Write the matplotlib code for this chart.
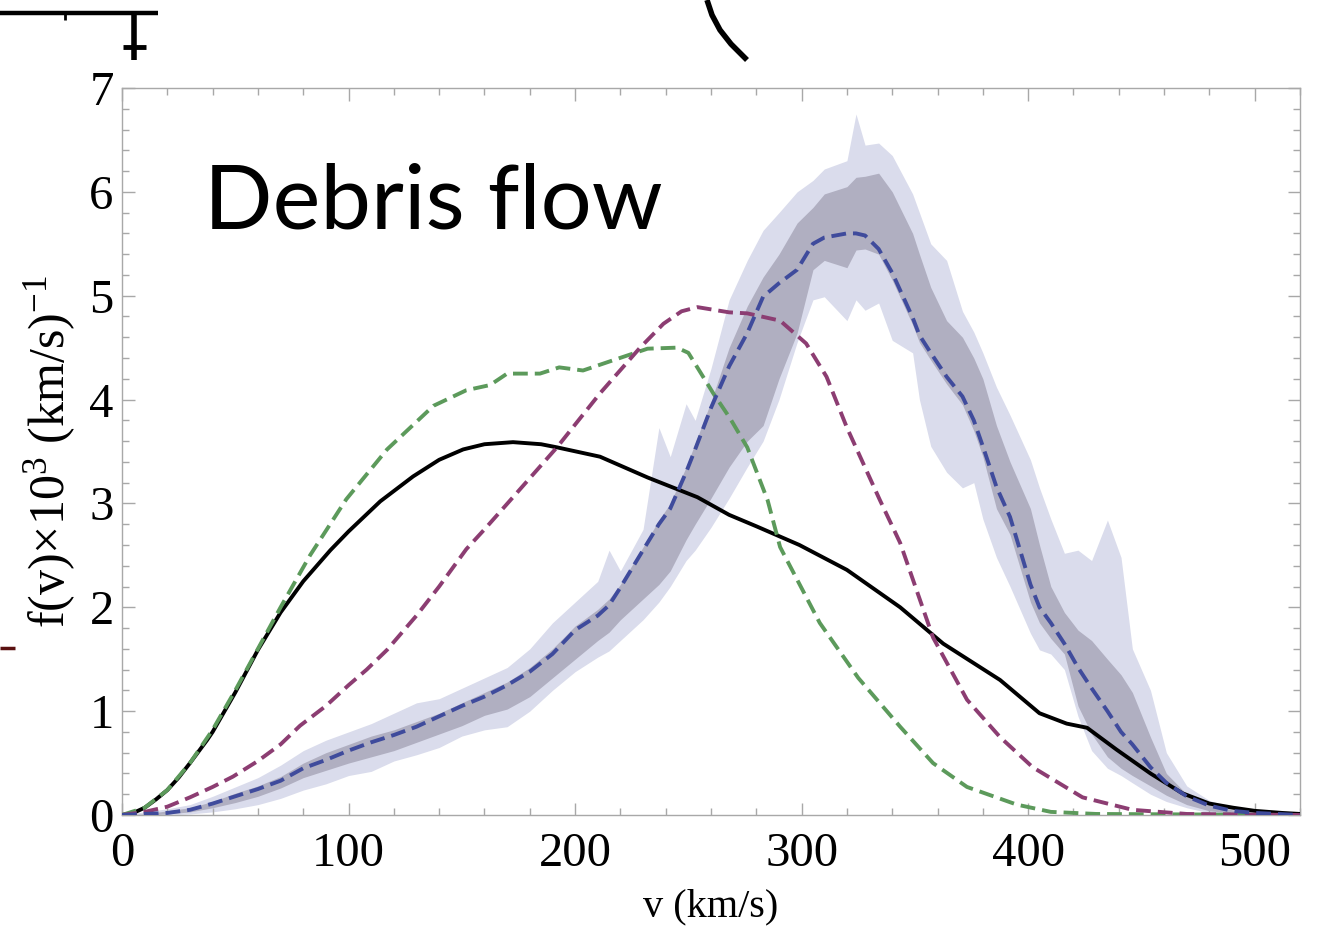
import matplotlib
matplotlib.use("Agg")
import matplotlib.pyplot as plt
from matplotlib.lines import Line2D
from matplotlib.ticker import MultipleLocator

plt.rcParams["mathtext.fontset"] = "custom"
plt.rcParams["mathtext.rm"] = "Liberation Serif"
plt.rcParams["mathtext.it"] = "Liberation Serif:italic"

# ---------------- data ----------------
# black solid curve
black_v = [0, 5, 10, 15, 20, 25, 30, 37.5, 40, 50, 60, 70, 80, 92, 100, 114, 128.5, 140, 150.6, 160,
           172.6, 185, 192, 211, 232, 254, 268, 280, 299, 320, 343.5, 362.5, 387.6, 405, 417, 426,
           439, 454, 468, 480, 490.5, 500, 512, 520]
black_f = [0, 0.02, 0.07, 0.15, 0.24, 0.36, 0.50, 0.72, 0.80, 1.18, 1.59, 1.95, 2.25, 2.55, 2.73, 3.02, 3.26,
           3.42, 3.52, 3.57, 3.59, 3.57, 3.54, 3.45, 3.25, 3.06, 2.89, 2.78, 2.60, 2.36, 2.0, 1.65, 1.30,
           0.98, 0.88, 0.84, 0.63, 0.40, 0.21, 0.11, 0.07, 0.04, 0.02, 0.01]

# green dashed curve
green_v = [0, 10, 20, 30, 40, 50, 60, 70, 83, 99, 117, 137.5, 152, 162.5, 170, 184.5, 193, 203.5, 217,
           232, 245, 250, 256.5, 261, 268.4, 276, 285, 290.5, 308, 325, 343.5, 358, 373, 395, 410, 430, 520]
green_f = [0, 0.07, 0.24, 0.50, 0.82, 1.20, 1.60, 2.00, 2.50, 3.04, 3.52, 3.94, 4.09, 4.14, 4.25, 4.25,
           4.31, 4.28, 4.38, 4.49, 4.50, 4.45, 4.22, 4.06, 3.82, 3.54, 3.03, 2.58, 1.85, 1.32, 0.85,
           0.50, 0.27, 0.10, 0.03, 0.01, 0]

# purple dashed curve
purple_v = [0, 10, 20, 30, 40, 49, 60, 70, 78.6, 90, 100, 108, 117, 130, 140, 152, 160, 172.6, 192, 211,
            228.7, 239, 247, 254, 268, 276, 290.5, 302, 311, 320, 334.6, 343.5, 358, 373, 387.6, 402,
            424, 446, 470, 520]
purple_f = [0, 0.03, 0.08, 0.17, 0.27, 0.37, 0.52, 0.68, 0.86, 1.05, 1.25, 1.40, 1.59, 1.92, 2.20, 2.56,
            2.75, 3.06, 3.54, 4.06, 4.50, 4.73, 4.85, 4.89, 4.84, 4.83, 4.76, 4.54, 4.22, 3.73, 3.03,
            2.62, 1.71, 1.11, 0.75, 0.46, 0.17, 0.05, 0.01, 0]

# blue median with inner / outer bands
band_v = [0, 10, 20, 30, 40, 50, 60, 70, 80, 90, 100, 110, 120, 130, 140, 150, 160, 170, 180, 190,
          200, 210, 215, 220, 230, 237, 242, 249, 253, 260, 268, 276, 283, 290, 298, 305, 310, 320,
          324, 328, 334, 340, 349, 352, 357, 364, 371, 376, 380, 386, 392, 401, 405, 410, 416, 422,
          428, 435, 441, 446, 454, 461, 470, 480, 490, 500, 510, 520]
outer_lo = [0, 0, 0, 0.01, 0.03, 0.06, 0.10, 0.16, 0.24, 0.30, 0.38, 0.42, 0.52, 0.58, 0.65, 0.76, 0.82,
            0.85, 1.00, 1.20, 1.38, 1.52, 1.58, 1.68, 1.88, 2.05, 2.20, 2.45, 2.55, 2.77, 3.05, 3.35,
            3.60, 4.00, 4.55, 4.96, 4.99, 4.76, 4.96, 4.86, 4.93, 4.57, 4.45, 4.00, 3.55, 3.30, 3.15,
            3.20, 2.85, 2.48, 2.20, 1.75, 1.59, 1.55, 1.40, 0.95, 0.62, 0.45, 0.38, 0.31, 0.20, 0.13,
            0.07, 0.02, 0.01, 0, 0, 0]
inner_lo = [0, 0, 0.01, 0.03, 0.07, 0.12, 0.18, 0.26, 0.36, 0.43, 0.50, 0.56, 0.62, 0.70, 0.78, 0.86,
            0.96, 1.02, 1.14, 1.32, 1.50, 1.68, 1.76, 1.88, 2.08, 2.22, 2.35, 2.65, 2.80, 3.05, 3.35,
            3.60, 3.75, 4.20, 4.64, 5.25, 5.34, 5.27, 5.44, 5.45, 5.40, 5.15, 4.72, 4.55, 4.38, 4.15,
            3.95, 3.70, 3.45, 2.95, 2.70, 2.05, 1.85, 1.70, 1.55, 1.05, 0.78, 0.56, 0.45, 0.38, 0.28,
            0.19, 0.10, 0.04, 0.02, 0.01, 0, 0]
median = [0, 0.01, 0.02, 0.05, 0.11, 0.18, 0.25, 0.33, 0.45, 0.53, 0.62, 0.70, 0.77, 0.85, 0.95, 1.05,
          1.14, 1.25, 1.38, 1.55, 1.78, 1.92, 2.02, 2.19, 2.55, 2.80, 2.95, 3.30, 3.52, 3.92, 4.32,
          4.64, 4.99, 5.12, 5.25, 5.50, 5.56, 5.60, 5.60, 5.58, 5.45, 5.22, 4.79, 4.62, 4.45, 4.22,
          4.03, 3.80, 3.55, 3.16, 2.87, 2.22, 2.00, 1.85, 1.65, 1.42, 1.22, 1.00, 0.80, 0.68, 0.46,
          0.31, 0.18, 0.09, 0.04, 0.02, 0.01, 0]
inner_hi = [0, 0.01, 0.04, 0.07, 0.13, 0.21, 0.28, 0.37, 0.50, 0.60, 0.68, 0.76, 0.82, 0.90, 0.98, 1.08,
            1.18, 1.28, 1.42, 1.60, 1.82, 1.98, 2.08, 2.22, 2.58, 2.84, 3.00, 3.35, 3.58, 3.98, 4.50,
            4.90, 5.18, 5.40, 5.70, 5.85, 5.98, 6.05, 6.14, 6.15, 6.18, 6.00, 5.60, 5.40, 5.08, 4.76,
            4.60, 4.40, 4.20, 3.75, 3.40, 2.95, 2.60, 2.20, 1.95, 1.78, 1.68, 1.50, 1.35, 1.18, 0.75,
            0.40, 0.20, 0.10, 0.05, 0.02, 0.01, 0]
outer_hi = [0, 0.03, 0.06, 0.10, 0.18, 0.27, 0.36, 0.48, 0.62, 0.72, 0.80, 0.88, 0.98, 1.08, 1.12, 1.22,
            1.32, 1.42, 1.60, 1.85, 2.05, 2.25, 2.55, 2.35, 2.75, 3.73, 3.45, 3.96, 3.80, 4.30, 4.96,
            5.34, 5.63, 5.80, 6.00, 6.11, 6.22, 6.30, 6.75, 6.45, 6.47, 6.35, 5.98, 5.80, 5.50, 5.34,
            4.85, 4.65, 4.45, 4.12, 3.85, 3.42, 3.15, 2.85, 2.52, 2.55, 2.45, 2.84, 2.48, 1.60, 1.20,
            0.60, 0.28, 0.14, 0.07, 0.03, 0.01, 0]

x_ticks = [0, 100, 200, 300, 400, 500]
y_ticks = [0, 1, 2, 3, 4, 5, 6, 7]

# ---------------- figure ----------------
W, H = 1320, 927
fig = plt.figure(figsize=(W / 100, H / 100), dpi=100)
ax = fig.add_axes([122 / W, 1 - 815 / H, (1300 - 122) / W, (815 - 88) / H])

c_outer = "#dadcec"
c_inner = "#b0afc1"
c_blue = "#3f4b9c"
c_purple = "#8c3d72"
c_green = "#5c9a5b"

ax.fill_between(band_v, outer_lo, outer_hi, color=c_outer, lw=0, zorder=1)
ax.fill_between(band_v, inner_lo, inner_hi, color=c_inner, lw=0, zorder=2)

LW = 2.8
DASH = (3.8, 1.8)
ax.plot(black_v, black_f, color="black", lw=LW, zorder=3, solid_joinstyle="round")
ax.plot(green_v, green_f, color=c_green, lw=LW, dashes=DASH, zorder=4)
ax.plot(purple_v, purple_f, color=c_purple, lw=LW, dashes=DASH, zorder=4)
ax.plot(band_v, median, color=c_blue, lw=LW, dashes=DASH, zorder=5)

ax.set_xlim(0, 520)
ax.set_ylim(0, 7)
ax.set_xticks(x_ticks)
ax.set_yticks(y_ticks)
ax.xaxis.set_minor_locator(MultipleLocator(20))
ax.yaxis.set_minor_locator(MultipleLocator(0.2))

spine_c = "#a8a8a8"
for s in ax.spines.values():
    s.set_color(spine_c)
    s.set_linewidth(1.0)

serif = ["Liberation Serif", "DejaVu Serif"]
ax.tick_params(which="both", direction="in", top=True, right=True, color=spine_c, width=1.0)
ax.tick_params(which="major", length=9)
ax.tick_params(which="minor", length=5)
ax.tick_params(axis="x", which="major", pad=12)
ax.tick_params(axis="y", which="major", pad=6)
for lab in ax.get_xticklabels() + ax.get_yticklabels():
    lab.set_fontfamily(serif)
    lab.set_fontsize(35)

ax.set_xlabel("v (km/s)", fontfamily=serif, fontsize=29, labelpad=9)
ax.set_ylabel("f(v)×10$^3$ (km/s)$^{-1}$", fontfamily=serif, fontsize=36, labelpad=8)

ax.text(0.07, 0.807, "Debris flow", transform=ax.transAxes, fontfamily=["Lato", "DejaVu Sans"],
        fontsize=65, color="black", ha="left", va="baseline")

# ---------------- cropped-in fragments of neighbouring panels ----------------
def seg(pts, lw, color="black"):
    xs = [p[0] / W for p in pts]
    ys = [1 - p[1] / H for p in pts]
    fig.add_artist(Line2D(xs, ys, color=color, lw=lw, solid_capstyle="butt"))

seg([(0, 13), (158, 13)], 3.2)
seg([(65, 13), (65, 20)], 2.0)
seg([(134, 13), (134, 60)], 4.0)
seg([(123, 47), (146, 47)], 3.5)
seg([(707, 0), (712, 15), (720, 30), (731, 44), (747, 60)], 4.0)
seg([(0, 648), (15, 648)], 2.5, color="#5a1010")

fig.savefig("out.png", dpi=100)
